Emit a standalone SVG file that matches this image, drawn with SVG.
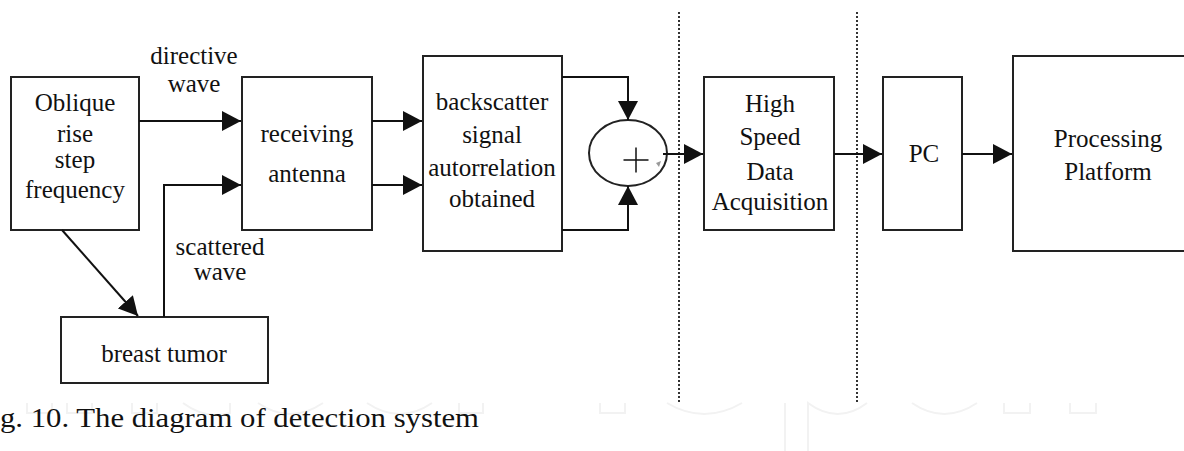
<svg xmlns="http://www.w3.org/2000/svg" width="1184" height="451" viewBox="0 0 1184 451">
  <defs>
    <marker id="arrow" markerUnits="userSpaceOnUse" markerWidth="20" markerHeight="21" refX="19" refY="10" orient="auto">
      <path d="M0,0 L19,10 L0,20 Z" fill="#111"/>
    </marker>
    <style>
      .box { fill: #fff; stroke: #222; stroke-width: 2; }
      .lbl { font-size: 25px; fill: #111; text-anchor: middle; }
      .wire { fill: none; stroke: #111; stroke-width: 2; }
      .sep { fill: none; stroke: #333; stroke-width: 2; stroke-dasharray: 2 2; }
      .mark { fill: none; stroke: #f2f2f2; stroke-width: 2; }
      .cap { font-size: 28px; fill: #111; }
    </style>
  </defs>
  <rect width="1184" height="451" fill="#fff"/>

  <!-- faint background mark -->
  <g id="watermark" class="mark">
    <path d="M27,403 V413 H52 V403"/>
    <path d="M67,403 V413 H92 V403"/>
    <path d="M132,403 V413 H157 V403"/>
    <path d="M183,403 Q206,420 230,413 V403"/>
    <path d="M258,403 Q290,425 323,403"/>
    <path d="M367,403 Q400,425 432,403"/>
    <path d="M459,403 V413 H483 V403"/>
    <path d="M600,403 V413 H625 V403"/>
    <path d="M667,403 Q704,425 742,403"/>
    <path d="M785,403 V451"/>
    <path d="M808,451 V403 Q838,425 867,403"/>
    <path d="M912,403 Q944,425 977,403"/>
    <path d="M1004,403 V413 H1030 V403"/>
    <path d="M1070,403 V413 H1096 V403"/>
  </g>

  <!-- stage separators -->
  <g id="separators">
    <path class="sep" d="M679,12 V403"/>
    <path class="sep" d="M857,12 V403"/>
  </g>

  <g font-family="Liberation Serif, Times New Roman, serif">
    <g id="source">
      <rect class="box" x="11" y="77" width="128" height="153"/>
      <text class="lbl" x="75" y="111">Oblique</text>
      <text class="lbl" x="75" y="142">rise</text>
      <text class="lbl" x="75" y="168">step</text>
      <text class="lbl" x="75" y="198">frequency</text>
    </g>

    <g id="antenna">
      <rect class="box" x="242" y="77" width="130" height="153"/>
      <text class="lbl" x="307" y="142">receiving</text>
      <text class="lbl" x="307" y="182">antenna</text>
    </g>

    <g id="tumor">
      <rect class="box" x="61" y="317" width="207" height="66"/>
      <text class="lbl" x="164" y="362">breast tumor</text>
    </g>

    <g id="backscatter">
      <rect class="box" x="423" y="56" width="139" height="195"/>
      <text class="lbl" x="492" y="110">backscatter</text>
      <text class="lbl" x="492" y="143">signal</text>
      <text class="lbl" x="492" y="176">autorrelation</text>
      <text class="lbl" x="492" y="207">obtained</text>
    </g>

    <g id="adder">
      <ellipse cx="628" cy="153" rx="39" ry="33" fill="#fff" stroke="#222" stroke-width="2"/>
      <path d="M623.5,160 H648.5 M636,147.5 V172.5" stroke="#111" stroke-width="1.5" fill="none"/>
      <path d="M656,163 L661,161 L659,167 Z" fill="#999"/>
    </g>

    <g id="acquisition">
      <rect class="box" x="704" y="77" width="130" height="153"/>
      <text class="lbl" x="770" y="112">High</text>
      <text class="lbl" x="770" y="145">Speed</text>
      <text class="lbl" x="770" y="180">Data</text>
      <text class="lbl" x="770" y="210">Acquisition</text>
    </g>

    <g id="pc">
      <rect class="box" x="883" y="77" width="79" height="153"/>
      <text class="lbl" x="924" y="162">PC</text>
    </g>

    <g id="platform">
      <rect class="box" x="1013" y="56" width="180" height="195"/>
      <text class="lbl" x="1108" y="147">Processing</text>
      <text class="lbl" x="1108" y="180">Platform</text>
    </g>

    <g id="connectors">
      <path class="wire" d="M139,121 H241" marker-end="url(#arrow)"/>
      <path class="wire" d="M164,317 V185 H241" marker-end="url(#arrow)"/>
      <path class="wire" d="M62,230 L138,316" marker-end="url(#arrow)"/>
      <path class="wire" d="M372,121 H422" marker-end="url(#arrow)"/>
      <path class="wire" d="M372,185 H422" marker-end="url(#arrow)"/>
      <path class="wire" d="M562,77 H628 V120" marker-end="url(#arrow)"/>
      <path class="wire" d="M562,230 H628 V186" marker-end="url(#arrow)"/>
      <path class="wire" d="M663,154 H703" marker-end="url(#arrow)"/>
      <path class="wire" d="M834,154 H882" marker-end="url(#arrow)"/>
      <path class="wire" d="M962,154 H1012" marker-end="url(#arrow)"/>
    </g>

    <g id="labels">
      <text class="lbl" x="194" y="64">directive</text>
      <text class="lbl" x="194" y="92">wave</text>
      <text class="lbl" x="220" y="255">scattered</text>
      <text class="lbl" x="220" y="280">wave</text>
    </g>

    <text class="cap" x="0" y="427" textLength="479" lengthAdjust="spacingAndGlyphs">g. 10. The diagram of detection system</text>
  </g>
</svg>
